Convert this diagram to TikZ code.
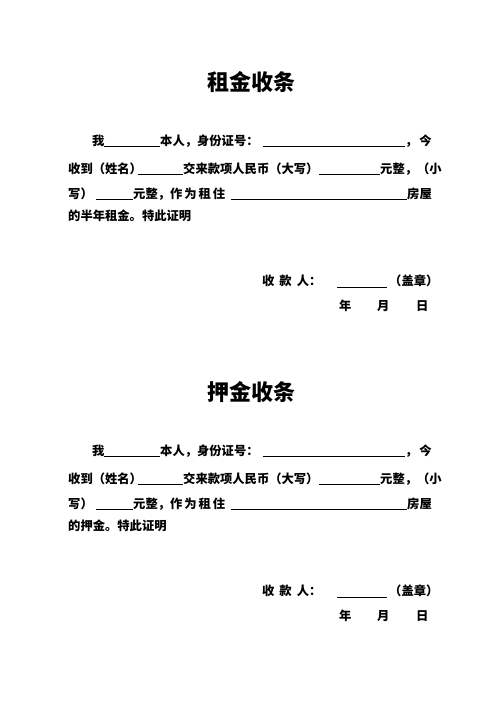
\documentclass[tikz,border=0pt]{standalone}
\usepackage{fontspec}
\newfontfamily\cjk{Noto Sans CJK SC}
\usetikzlibrary{positioning}
\tikzset{%
  txt/.style = {anchor=base west,inner sep=0pt,
        font=\cjk\bfseries\fontsize{12.3}{14}\selectfont},
  ttl/.style = {anchor=base,inner sep=0pt,
        font=\cjk\bfseries\fontsize{22}{24}\selectfont},
  blank/.style = {line width=0.7pt}
}

\begin{document}
\begin{tikzpicture}[x=1pt,y=-1pt]
  \useasboundingbox (0,0) rectangle (496,702);
  \foreach \off/\head/\tail/\id in {0/租金收条/的半年租金。特此证明/a,
                                     310/押金收条/的押金。特此证明/b}{
    \begin{scope}[yshift=-\off pt]
      \node[ttl] (title\id) at (251,90) {\head};
      % line 1
      \node[txt] (wo\id) at (92,145) {我};
      \node[txt] (self\id) at (160,145) {本人，身份证号：};
      \node[txt] (jin\id) at (405,145) {，\hspace{2pt}今};
      \draw[blank] (104,146) -- (160,146);
      \draw[blank] (263,146) -- (405,146);
      % line 2
      \node[txt] (recv\id) at (68,173) {收到（姓名）};
      \node[txt] (pay\id) at (183,173) {交来款项人民币（大写）};
      \node[txt] (yuan\id) at (380,173) {元整，（小};
      \draw[blank] (138,174) -- (183,174);
      \draw[blank] (319,174) -- (380,174);
      % line 3
      \node[txt] (xie\id) at (68,198) {写）};
      \node[txt] (rent\id) at (133,198)
        {元整，作\hspace{2pt}为\hspace{2pt}租\hspace{2pt}住};
      \node[txt] (house\id) at (407,198) {房屋};
      \draw[blank] (96,199) -- (133,199);
      \draw[blank] (231,199) -- (407,199);
      % line 4
      \node[txt] (end\id) at (68,220) {\tail};
      % signature
      \node[txt] (payee\id) at (262,285) {收\hspace{5pt}款\hspace{5pt}人：};
      \node[txt] (seal\id) at (389,285) {（盖章）};
      \draw[blank] (337,287) -- (387,287);
      \node[txt] (year\id) at (339,310) {年};
      \node[txt] (month\id) at (377,310) {月};
      \node[txt] (day\id) at (416,310) {日};
    \end{scope}
  }
\end{tikzpicture}
\end{document}
